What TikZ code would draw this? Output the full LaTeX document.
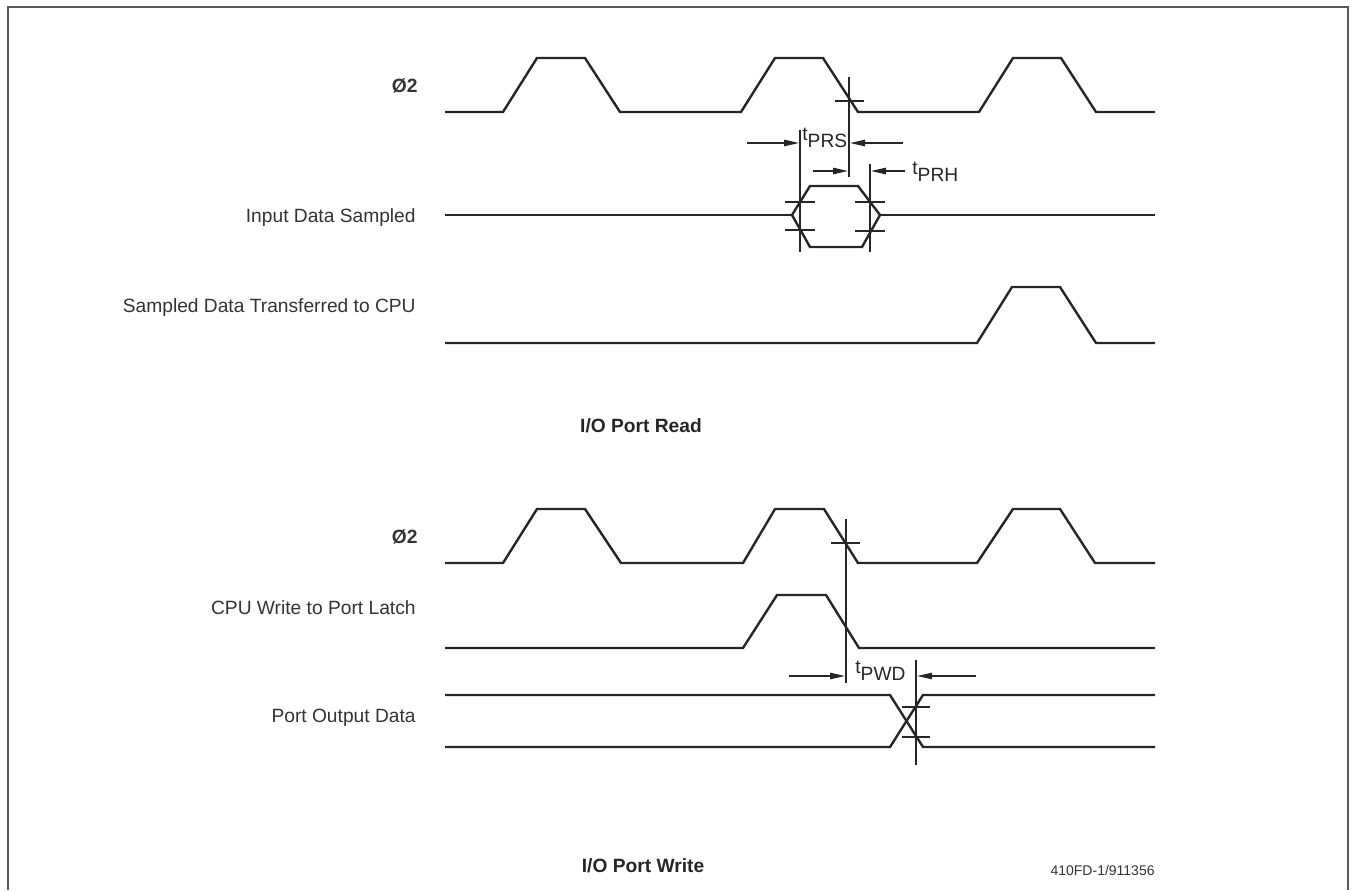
\documentclass[tikz,border=0pt]{standalone}
\usepackage{fontspec}
\setmainfont{Liberation Sans}
\usetikzlibrary{arrows.meta}
\newcommand{\tsub}[1]{t\raisebox{-0.7ex}{#1}}
\begin{document}
\begin{tikzpicture}[x=0.5pt,y=-0.5pt,
  sig/.style={line width=1.2pt, black!85, line join=miter},
  thinln/.style={line width=0.7pt, black!85},
  dim/.style={line width=0.7pt, black!85, -{Triangle[length=7.5pt,width=3.2pt]}},
  lbl/.style={anchor=base east, inner sep=0pt, font=\fontsize{9.6}{11}\selectfont, text=black!80},
  ttl/.style={anchor=base, inner sep=0pt, font=\fontsize{9.6}{11}\selectfont\bfseries, text=black!85},
  tim/.style={anchor=base west, inner sep=0pt, font=\fontsize{9.6}{11}\selectfont, text=black!85}]
\useasboundingbox (0,0) rectangle (1355,890);
% frame
\draw[line width=1.1pt, black!65] (8,890) -- (8,7) -- (1348,7) -- (1348,890);

% ---------------- I/O Port Read ----------------
\node[lbl] (phiA) at (418,92) {\textbf{Ø2}};
\node[lbl] (ids) at (416,222) {Input Data Sampled};
\node[lbl] (sdt) at (416,312) {Sampled Data Transferred to CPU};
\node[ttl] (rd) at (641,432) {I/O Port Read};

\draw[sig] (445,112) -- (503,112) -- (537,58) -- (585,58) -- (620,112) -- (741,112) -- (775,58) -- (823,58) -- (858,112) -- (979,112) -- (1013,58) -- (1061,58) -- (1096,112) -- (1155,112);
\draw[sig] (445,215) -- (792,215);
\draw[sig] (792,215) -- (810,186) -- (858,186) -- (880,215) -- (862,247) -- (810,247) -- cycle;
\draw[sig] (880,215) -- (1155,215);
\draw[sig] (445,343) -- (977,343) -- (1012,287) -- (1060,287) -- (1096,343) -- (1155,343);

% timing marks
\draw[thinln] (849,77) -- (849,177);
\draw[thinln] (835,101) -- (864,101);
\draw[thinln] (800,130) -- (800,252);
\draw[thinln] (870,164) -- (870,252);
\draw[thinln] (785,202) -- (815,202);
\draw[thinln] (785,230) -- (815,230);
\draw[thinln] (855,202) -- (885,202);
\draw[thinln] (855,231) -- (885,231);

\coordinate (p1s) at (747,143); \coordinate (p1e) at (799,143);
\coordinate (p2s) at (903,143); \coordinate (p2e) at (850,143);
\coordinate (h1s) at (813,171); \coordinate (h1e) at (848,171);
\coordinate (h2s) at (905,171); \coordinate (h2e) at (871,171);
\draw[dim] (p1s) -- (p1e);
\draw[dim] (p2s) -- (p2e);
\draw[dim] (h1s) -- (h1e);
\draw[dim] (h2s) -- (h2e);
\node[tim] (tprs) at (802,140) {\tsub{PRS}};
\node[tim] (tprh) at (912,174) {\tsub{PRH}};

% ---------------- I/O Port Write ----------------
\node[lbl] (phiB) at (418,543) {\textbf{Ø2}};
\node[lbl] (cpw) at (416,614) {CPU Write to Port Latch};
\node[lbl] (pod) at (416,722) {Port Output Data};
\node[ttl] (wr) at (643,872) {I/O Port Write};
\node[anchor=base east, inner sep=0pt, font=\fontsize{7}{8}\selectfont, text=black!80] (fig) at (1155,875) {410FD-1/911356};

\draw[sig] (445,563) -- (503,563) -- (537,509) -- (585,509) -- (621,563) -- (743,563) -- (775,509) -- (824,509) -- (858,563) -- (977,563) -- (1013,509) -- (1060,509) -- (1095,563) -- (1155,563);
\draw[sig] (445,648) -- (743,648) -- (777,595) -- (826,595) -- (859,648) -- (1155,648);
\draw[sig] (445,695) -- (890,695) -- (923,747) -- (1155,747);
\draw[sig] (445,747) -- (890,747) -- (923,695) -- (1155,695);

\draw[thinln] (846,519) -- (846,683);
\draw[thinln] (831,543) -- (860,543);
\draw[thinln] (916,660) -- (916,765);
\draw[thinln] (902,707) -- (930,707);
\draw[thinln] (902,737) -- (930,737);

\coordinate (w1s) at (789,676); \coordinate (w1e) at (845,676);
\coordinate (w2s) at (976,676); \coordinate (w2e) at (917,676);
\draw[dim] (w1s) -- (w1e);
\draw[dim] (w2s) -- (w2e);
\node[tim] (tpwd) at (855,673) {\tsub{PWD}};
\end{tikzpicture}
\end{document}
